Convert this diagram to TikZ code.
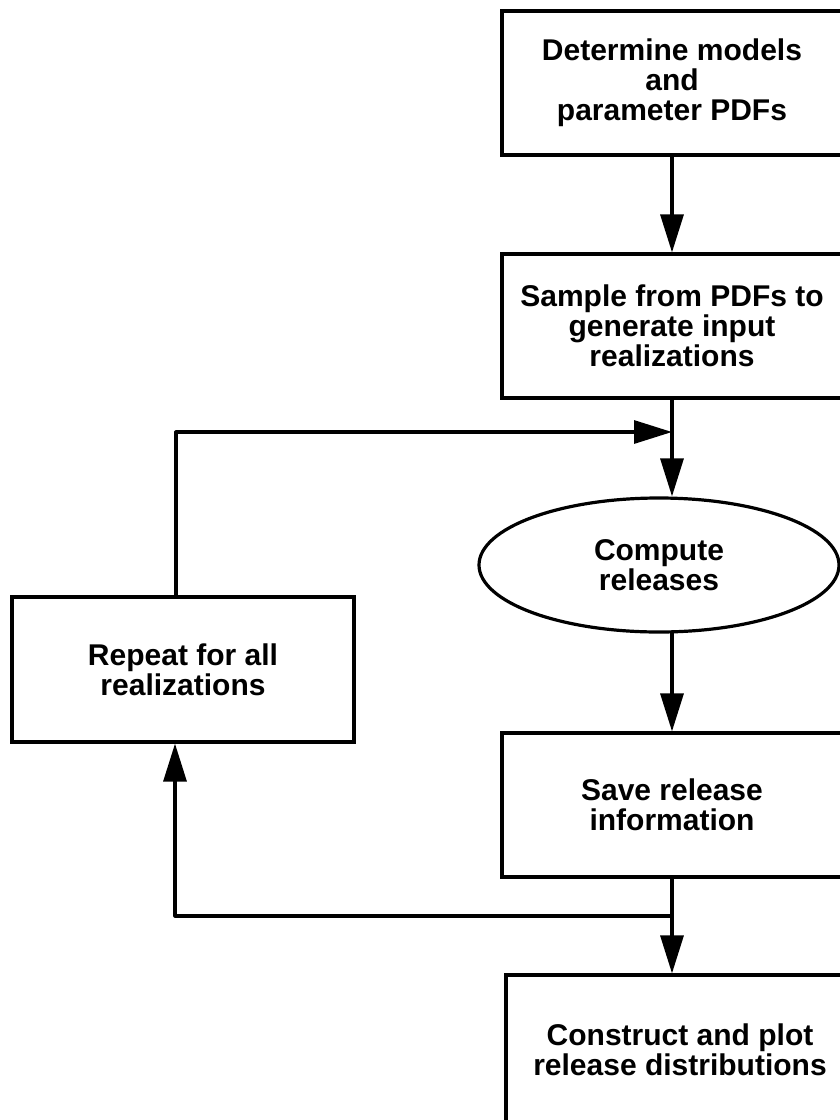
\documentclass[tikz,border=0pt]{standalone}
\usepackage{fontspec}
\setmainfont{Liberation Sans}
\usetikzlibrary{arrows.meta,shapes.geometric}
\tikzset{
  conn/.style={line width=3.2pt, line cap=round, line join=round},
  arr/.style={conn, -{Triangle[length=38pt,width=23pt]}},
  boxnode/.style={draw, line width=3.2pt, rectangle, minimum width=340pt, minimum height=144pt, inner sep=0pt, align=center, font=\fontsize{30}{30}\selectfont\bfseries},
  ellnode/.style={draw, line width=3.2pt, ellipse, minimum width=360pt, minimum height=134pt, inner sep=0pt, align=center, font=\fontsize{30}{30}\selectfont\bfseries}
}
\begin{document}
\begin{tikzpicture}[x=1pt,y=-1pt]
\useasboundingbox (0,0) rectangle (840,1120);
\clip (0,0) rectangle (840,1120);
\node[boxnode] (b1) at (672,83) {Determine models\\and\\parameter PDFs};
\node[boxnode] (b2) at (672,326) {Sample from PDFs to\\generate input\\realizations};
\node[ellnode] (ell) at (659,565) {Compute\\releases};
\node[boxnode] (b4) at (672,805) {Save release\\information};
\node[boxnode, minimum width=348pt, minimum height=150pt] (b5) at (680,1050) {Construct and plot\\release distributions};
\node[boxnode, minimum width=342pt, minimum height=145pt] (rep) at (183,669.5) {Repeat for all\\realizations};
\coordinate (j1) at (672,432);
\coordinate (j2) at (672,916);
\draw[arr] (b1.south) -- (b2.north);
\draw[conn] (b2.south) -- (j1);
\draw[arr] (j1) -- (j1 |- ell.north);
\draw[arr] (j1 |- ell.south) -- (b4.north);
\draw[arr] (b4.south) -- (b4.south |- b5.north);
\draw[arr] (j2) -| ([xshift=-8pt]rep.south);
\draw[arr] ([xshift=-7pt]rep.north) |- (j1);
\end{tikzpicture}
\end{document}
